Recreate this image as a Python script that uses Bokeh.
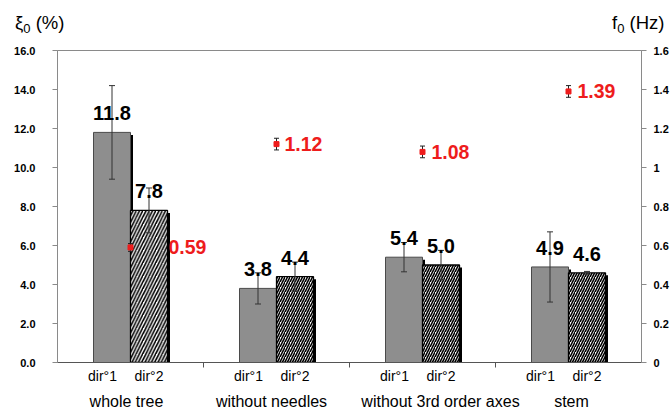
import numpy as np
from bokeh.plotting import figure
from bokeh.layouts import column
from bokeh.core.properties import value
from bokeh.models import (ColumnDataSource, Range1d, LinearAxis, FixedTicker,
                          Whisker, TeeHead, LabelSet, Div)
from bokeh.embed import file_html
from bokeh.resources import INLINE

# ---- data -------------------------------------------------------------
groups = ["whole tree", "without needles", "without 3rd order axes", "stem"]
dir_names = ["dir°1", "dir°2"]

damping_dir1 = [11.8, 3.8, 5.4, 4.9]          # xi0 (%) along direction 1
damping_dir2 = [7.8, 4.4, 5.0, 4.6]           # xi0 (%) along direction 2
damping_err_dir1 = [2.4, 0.8, 0.75, 1.8]
damping_err_dir2 = [1.15, 0.75, 0.75, 0.07]

frequency = [0.59, 1.12, 1.08, 1.39]          # f0 (Hz)
frequency_err = [0.02, 0.03, 0.03, 0.03]

left_ticks = [0, 2, 4, 6, 8, 10, 12, 14, 16]
left_tick_labels = ["0.0", "2.0", "4.0", "6.0", "8.0", "10.0", "12.0", "14.0", "16.0"]
right_ticks = [0, 0.2, 0.4, 0.6, 0.8, 1.0, 1.2, 1.4, 1.6]
right_tick_labels = ["0", "0.2", "0.4", "0.6", "0.8", "1", "1.2", "1.4", "1.6"]

# ---- geometry / style ---------------------------------------------------
W, H = 671, 412
HEADER = 42                        # strip above the plot holding the axis titles
BL, BR, BT, BB = 57, 30, 8, 49
frame_w = W - BL - BR
frame_h = H - HEADER - BT - BB
n = len(groups)
px_x = n / frame_w                 # data units per pixel (x)
px_y = 16.0 / frame_h              # data units per pixel (left y)

bar_w = 37 * px_x
centers = np.arange(n) + 0.5
x1 = centers - bar_w / 2
x2 = centers + bar_w / 2

FONT = "Liberation Sans"
RED = "#ee1c1c"

p = figure(width=W, height=H - HEADER, x_range=Range1d(0, n), y_range=Range1d(0, 16),
           x_axis_type=None, y_axis_type=None,
           output_backend="svg", toolbar_location=None,
           min_border_left=BL, min_border_right=BR,
           min_border_top=BT, min_border_bottom=BB)
p.extra_y_ranges = {"f": Range1d(0, 1.6)}
p.grid.visible = False
p.outline_line_color = "#8a8a8a"
p.outline_line_width = 1
p.background_fill_color = "white"
p.border_fill_color = "white"

# y axes
ax_left = LinearAxis(ticker=FixedTicker(ticks=left_ticks),
                     major_label_overrides=dict(zip(left_ticks, left_tick_labels)))
ax_right = LinearAxis(y_range_name="f", ticker=FixedTicker(ticks=right_ticks),
                      major_label_overrides=dict(zip(right_ticks, right_tick_labels)))
for ax, standoff in ((ax_left, 17), (ax_right, 7)):
    ax.axis_line_color = "#8a8a8a"
    ax.major_tick_line_color = "#8a8a8a"
    ax.major_tick_in = 0
    ax.major_tick_out = 5
    ax.minor_tick_line_color = None
    ax.major_label_standoff = standoff
    ax.major_label_text_font = FONT
    ax.major_label_text_font_style = "bold"
    ax.major_label_text_font_size = "11px"
    ax.major_label_text_color = "black"
p.add_layout(ax_left, "left")
p.add_layout(ax_right, "right")

# x axis: separators between groups as minor ticks, direction names as labels
dir1_shift_px = -9.5
dir_pos = [round(float(v), 4) for v in np.concatenate([x1 + dir1_shift_px * px_x, x2])]
dir_text = [dir_names[0]] * n + [dir_names[1]] * n
ax_bottom = LinearAxis(ticker=FixedTicker(ticks=dir_pos, minor_ticks=list(range(1, n))),
                       major_label_overrides=dict(zip(dir_pos, dir_text)))
ax_bottom.axis_line_color = "#555555"
ax_bottom.major_tick_line_color = None
ax_bottom.major_tick_in = 0
ax_bottom.major_tick_out = 0
ax_bottom.minor_tick_line_color = "#555555"
ax_bottom.minor_tick_in = 0
ax_bottom.minor_tick_out = 5
ax_bottom.major_label_standoff = 0
ax_bottom.major_label_text_font = FONT
ax_bottom.major_label_text_font_size = "14px"
ax_bottom.major_label_text_color = "black"
p.add_layout(ax_bottom, "below")

# second row of x labels: group names
group_shift_px = [-4, -5, 18, 3]
grp_pos = [round(float(v), 4) for v in centers + np.array(group_shift_px) * px_x]
ax_groups = LinearAxis(ticker=FixedTicker(ticks=grp_pos, minor_ticks=[]),
                       major_label_overrides=dict(zip(grp_pos, groups)))
ax_groups.axis_line_color = None
ax_groups.major_tick_line_color = None
ax_groups.minor_tick_line_color = None
ax_groups.major_tick_in = 0
ax_groups.major_tick_out = 0
ax_groups.major_label_standoff = 6
ax_groups.major_label_text_font = FONT
ax_groups.major_label_text_font_size = "16px"
ax_groups.major_label_text_color = "black"
p.add_layout(ax_groups, "below")

# ---- bars -------------------------------------------------------------
hatch_scale = [6.5] + [5.0] * (n - 1)     # coarser hatch on the first group
hatch_weight = [1.6] + [1.6] * (n - 1)

src1 = ColumnDataSource(dict(x=x1, top=damping_dir1,
                             lower=np.array(damping_dir1) - damping_err_dir1,
                             upper=np.array(damping_dir1) + damping_err_dir1,
                             label=[f"{v:.1f}" for v in damping_dir1]))
src2 = ColumnDataSource(dict(x=x2, top=damping_dir2,
                             lower=np.array(damping_dir2) - damping_err_dir2,
                             upper=np.array(damping_dir2) + damping_err_dir2,
                             label=[f"{v:.1f}" for v in damping_dir2],
                             hs=hatch_scale, hw=hatch_weight))

# drop shadows behind the bars
shadow = ColumnDataSource(dict(
    x=np.concatenate([x1, x2]) + 2.5 * px_x,
    top=np.concatenate([damping_dir1, damping_dir2]) - 2.5 * px_y))
p.vbar(x="x", top="top", width=bar_w, source=shadow,
       fill_color="black", line_color=None)

p.vbar(x="x", top="top", width=bar_w, source=src1,
       fill_color="#8e8e8e", line_color="#4a4a4a", line_width=1)
p.vbar(x="x", top="top", width=bar_w, source=src2,
       fill_color="white", line_color="black", line_width=1.3,
       hatch_pattern="/", hatch_color="black",
       hatch_scale="hs", hatch_weight="hw")

for src in (src1, src2):
    p.add_layout(Whisker(source=src, base="x", lower="lower", upper="upper",
                         dimension="height", level="annotation",
                         line_color="#333333", line_width=1,
                         upper_head=TeeHead(size=6, line_color="#333333", line_width=1),
                         lower_head=TeeHead(size=6, line_color="#333333", line_width=1)))
    p.add_layout(LabelSet(source=src, x="x", y="top", text="label",
                          y_offset=12, text_align="center",
                          text_baseline="alphabetic",
                          text_font=value(FONT), text_font_style="bold",
                          text_font_size="20px", text_color="black"))

# ---- natural frequency (right axis) -------------------------------------
freq_label_gap_px = [38, 8, 9, 9]
fsrc = ColumnDataSource(dict(
    x=centers, f=frequency,
    lower=np.array(frequency) - frequency_err,
    upper=np.array(frequency) + frequency_err,
    lx=centers + np.array(freq_label_gap_px) * px_x,
    label=[f"{v:.2f}" for v in frequency]))
p.add_layout(Whisker(source=fsrc, base="x", lower="lower", upper="upper",
                     dimension="height", y_range_name="f", level="annotation",
                     line_color="#222222", line_width=1,
                     upper_head=TeeHead(size=5, line_color="#222222", line_width=1),
                     lower_head=TeeHead(size=5, line_color="#222222", line_width=1)))
sq = p.scatter(x="x", y="f", source=fsrc, y_range_name="f", marker="square",
               size=5, fill_color=RED, line_color=RED)
sq.level = "overlay"
p.add_layout(LabelSet(source=fsrc, x="lx", y="f", text="label", y_range_name="f",
                      text_align="left", text_baseline="middle",
                      text_font=value(FONT), text_font_style="bold",
                      text_font_size="19.5px", text_color=RED))

# ---- axis titles in a strip above the plot ------------------------------
span = ("position:absolute;top:14px;font-size:18.5px;line-height:18px;"
        "white-space:nowrap;")
sub = "font-size:13px;vertical-align:-4px;line-height:0;"
header = Div(
    text=(f'<div style="position:relative;width:{W}px;height:{HEADER}px;'
          f'font-family:\'{FONT}\';color:black;">'
          f'<span style="{span}left:15px;">ξ<span style="{sub}">0</span> (%)</span>'
          f'<span style="{span}left:612px;">f<span style="{sub}">0</span> (Hz)</span>'
          '</div>'),
    width=W, height=HEADER, margin=(0, 0, 0, 0))

layout = column(header, p, spacing=0)
open("out.html", "w").write(file_html(layout, INLINE))
